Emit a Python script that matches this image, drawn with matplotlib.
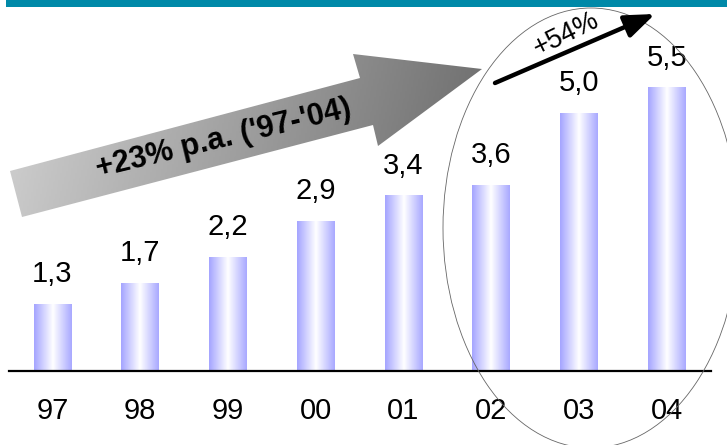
import numpy as np
import matplotlib
matplotlib.use("Agg")
import matplotlib.pyplot as plt
from matplotlib.colors import LinearSegmentedColormap
from matplotlib.patches import Rectangle, Ellipse, Polygon, FancyArrowPatch

plt.rcParams['font.family'] = ['Liberation Sans', 'DejaVu Sans']

# Data
years = ["97", "98", "99", "00", "01", "02", "03", "04"]
values = [1.3, 1.7, 2.2, 2.9, 3.4, 3.6, 5.0, 5.5]
value_labels = [f"{v:.1f}".replace(".", ",") for v in values]
cagr_text = "+23% p.a. ('97-'04)"
growth_text = "+54%"

W, H = 727, 445
fig = plt.figure(figsize=(W / 100, H / 100), dpi=100)
fig.patch.set_facecolor("white")

# Bar chart axes (pixel layout converted to figure fractions)
ax = fig.add_axes([8.6 / W, 74 / H, 702 / W, 360.5 / H])
ax.set_facecolor("none")

bar_w = 0.43
bar_cmap = LinearSegmentedColormap.from_list(
    "barfade", [(0.0, "#a4a4ff"), (0.5, "#ffffff"), (1.0, "#a8a8ff")])
grad = np.linspace(0, 1, 256).reshape(1, -1)
x = np.arange(len(values))
for xi, v in zip(x, values):
    ax.imshow(grad, cmap=bar_cmap, aspect="auto",
              extent=(xi - bar_w / 2, xi + bar_w / 2, 0, v),
              interpolation="bicubic", zorder=2)
ax.bar(x, values, width=bar_w, color="none", edgecolor="none", zorder=3)

for xi, v, lab in zip(x, values, value_labels):
    ax.annotate(lab, (xi, v), xytext=(0, 16), textcoords="offset points",
                ha="center", va="baseline", fontsize=21, color="black")

ax.set_xlim(-0.5, len(values) - 0.5)
ax.set_ylim(0, 7)
ax.set_xticks(x)
ax.set_xticklabels(years, fontsize=21)
ax.tick_params(axis="x", length=0, pad=19)
ax.set_yticks([])
for side in ("top", "right", "left"):
    ax.spines[side].set_visible(False)
ax.spines["bottom"].set_linewidth(1.6)
ax.spines["bottom"].set_color("black")

# Overlay axes in pixel units for the annotations
ov = fig.add_axes([0, 0, 1, 1], zorder=5)
ov.set_xlim(0, W)
ov.set_ylim(H, 0)
ov.axis("off")
ov.patch.set_alpha(0)

# Header band
ov.add_patch(Rectangle((6, 0), W - 6, 7, facecolor="#0089a8", edgecolor="none", zorder=10))

# Large gradient arrow
arrow_pts = np.array([(10, 171), (360, 78), (353, 54), (482, 69),
                      (378, 146), (373, 125), (22, 217)])
poly = Polygon(arrow_pts, closed=True, facecolor="none", edgecolor="none")
ov.add_patch(poly)
ang = np.deg2rad(-14.7)
gx, gy = np.meshgrid(np.linspace(0, W, 400), np.linspace(0, H, 250))
proj = (gx - 10) * np.cos(ang) - (gy - 171) * np.sin(ang)
t = np.clip(proj / proj.max(), 0, 1)
gray_cmap = LinearSegmentedColormap.from_list("grayfade", ["#cbcbcb", "#505050"])
img = ov.imshow(t, cmap=gray_cmap, extent=(0, W, H, 0), aspect="auto",
                origin="upper", zorder=4, vmin=0, vmax=0.78)
img.set_clip_path(poly)
ov.text(224, 139, cagr_text, rotation=13.5, rotation_mode="anchor",
        ha="center", va="center", fontsize=22, fontweight="bold",
        color="black", zorder=6)

# Ellipse around recent years
ov.add_patch(Ellipse((591, 228), 296, 440, facecolor="none",
                     edgecolor="#666666", linewidth=0.6, zorder=7))

# Growth arrow
ov.add_patch(FancyArrowPatch((495, 83), (655, 14),
                             arrowstyle="-|>,head_length=1.3,head_width=0.5",
                             mutation_scale=14, linewidth=3.2, color="black",
                             shrinkA=0, shrinkB=0, zorder=8))
ov.text(566, 34, growth_text, rotation=26, rotation_mode="anchor",
        ha="center", va="center", fontsize=19.5, color="black", zorder=8)

fig.savefig("out.png", dpi=100)
